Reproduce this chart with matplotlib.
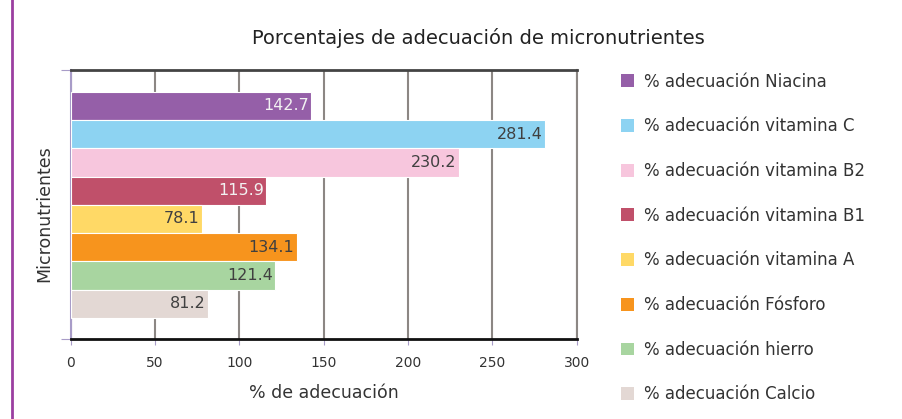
import matplotlib
matplotlib.use("Agg")
import matplotlib.pyplot as plt
from matplotlib.patches import Patch
from matplotlib.lines import Line2D

series = ["% adecuación Niacina", "% adecuación vitamina C", "% adecuación vitamina B2",
          "% adecuación vitamina B1", "% adecuación vitamina A", "% adecuación Fósforo",
          "% adecuación hierro", "% adecuación Calcio"]
values = [142.7, 281.4, 230.2, 115.9, 78.1, 134.1, 121.4, 81.2]
colors = ["#955FA8", "#8DD3F2", "#F7C6DD", "#C0506A", "#FFD966", "#F7941D", "#A8D5A0", "#E3D8D4"]
label_colors = ["#F2F2F2", "#404040", "#404040", "#F2F2F2", "#404040", "#404040", "#404040", "#404040"]
xticks = [0, 50, 100, 150, 200, 250, 300]

plt.rcParams['font.family'] = ['DejaVu Sans']

fig = plt.figure(figsize=(9.02, 4.19), dpi=100)
ax = fig.add_axes([0.0784, 0.1902, 0.561, 0.642])

ypos = list(range(len(values)))
bars = ax.barh(ypos, values, height=1.0, color=colors, edgecolor="white", linewidth=0.8, zorder=3)
for b, v, c in zip(bars, values, label_colors):
    ax.text(v - 1.5, b.get_y() + b.get_height() / 2, f"{v:.1f}", ha="right", va="center",
            fontsize=11.5, color=c, zorder=4)

ax.set_xlim(0, 300)
ax.set_ylim(8.26, -1.26)
ax.set_xticks(xticks)
ax.set_xticklabels([str(t) for t in xticks])
ax.set_yticks([-1.26, 8.26])
ax.set_yticklabels(["", ""])
ax.tick_params(axis="x", direction="out", length=4, color="#A89CC8", labelsize=10,
               labelcolor="#333333", pad=8)
ax.tick_params(axis="y", direction="out", length=7, color="#A89CC8")
ax.xaxis.grid(True, color="#8C8784", linewidth=1.5, zorder=0)
ax.set_axisbelow(True)

ax.spines["bottom"].set_color("#111111")
ax.spines["bottom"].set_linewidth(2)
ax.spines["top"].set_color("#444444")
ax.spines["top"].set_linewidth(2)
ax.spines["right"].set_color("#8C8784")
ax.spines["right"].set_linewidth(1.5)
ax.spines["left"].set_color("#A89CC8")
ax.spines["left"].set_linewidth(1.5)

ax.set_xlabel("% de adecuación", fontsize=12.5, color="#333333", labelpad=10)
ax.set_ylabel("Micronutrientes", fontsize=12.5, color="#333333")
ax.yaxis.set_label_coords(-0.035, 0.466)

fig.text(478 / 902, 1 - 38 / 419, "Porcentajes de adecuación de micronutrientes",
         ha="center", va="center", fontsize=14, color="#222222")

handles = [Patch(facecolor=c, edgecolor="none") for c in colors]
fig.legend(handles, series, loc="upper left", bbox_to_anchor=(614 / 902, 1 - 66 / 419),
           frameon=False, fontsize=12, labelcolor="#333333", handlelength=0.8,
           handleheight=0.8, handletextpad=0.6, labelspacing=1.6, borderaxespad=0)

fig.add_artist(Line2D([12 / 902, 12 / 902], [0, 1], transform=fig.transFigure,
                      color="#9B3FA0", linewidth=2))

fig.savefig("out.png", dpi=100)
